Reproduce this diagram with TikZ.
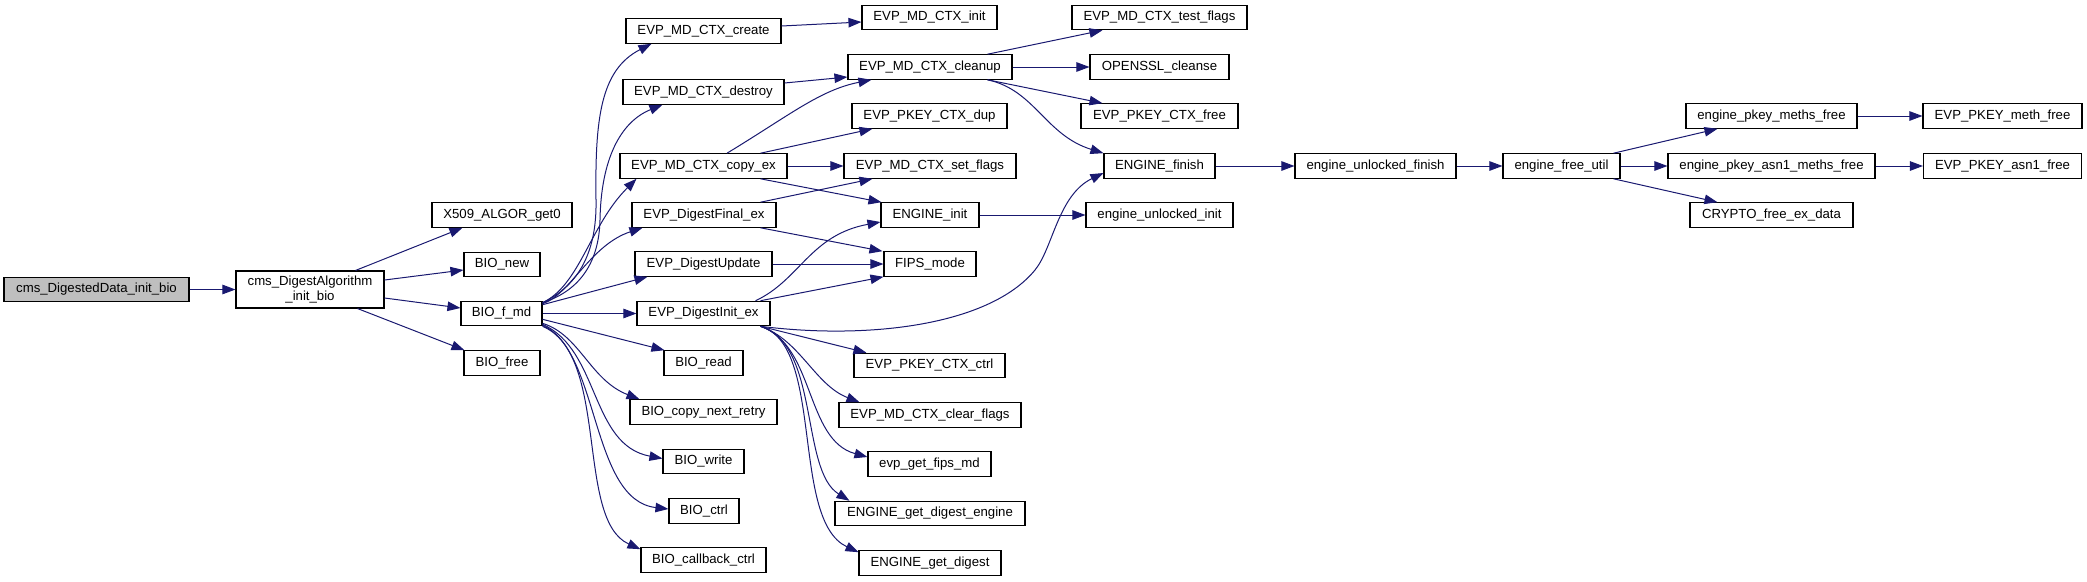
\documentclass[tikz,border=0pt]{standalone}
\usepackage{fontspec}
\setmainfont{Liberation Sans}
\usetikzlibrary{arrows.meta}
\definecolor{edgecol}{HTML}{191970}
\definecolor{rootfill}{HTML}{BFBFBF}
\begin{document}
\begin{tikzpicture}[x=1pt,y=-1pt,
  box/.style={draw=black, line width=1.1pt, fill=white, inner sep=0pt, minimum height=24.5pt,
    font=\fontsize{13.2}{15.5}\selectfont},
  rootbox/.style={box, fill=rootfill},
  edge/.style={draw=edgecol, line width=1pt, -{Triangle[length=13pt,width=9.5pt]}, fill=none}]
\useasboundingbox (0,0) rectangle (2087,581);
% column 1-2
\node[rootbox, minimum width=185pt] (root) at (96.5,289.5) {cms\_DigestedData\_init\_bio};
\node[box, minimum width=148pt, minimum height=37pt, align=center] (alg) at (310,289.5) {cms\_DigestAlgorithm\\\_init\_bio};
% column 3
\node[box, minimum width=140pt] (x509) at (502,215) {X509\_ALGOR\_get0};
\node[box, minimum width=76pt] (bionew) at (502,264.5) {BIO\_new};
\node[box, minimum width=81pt] (biofmd) at (501.5,313.5) {BIO\_f\_md};
\node[box, minimum width=76pt] (biofree) at (502,363) {BIO\_free};
% column 4
\node[box, minimum width=155pt] (create) at (703.5,31) {EVP\_MD\_CTX\_create};
\node[box, minimum width=161pt] (destroy) at (703.5,92) {EVP\_MD\_CTX\_destroy};
\node[box, minimum width=167pt] (copyex) at (703.5,166) {EVP\_MD\_CTX\_copy\_ex};
\node[box, minimum width=144pt] (dfinal) at (704,215) {EVP\_DigestFinal\_ex};
\node[box, minimum width=137pt] (dupdate) at (703.5,264) {EVP\_DigestUpdate};
\node[box, minimum width=133pt] (dinit) at (703.5,313.5) {EVP\_DigestInit\_ex};
\node[box, minimum width=79pt] (bioread) at (703.5,363) {BIO\_read};
\node[box, minimum width=147pt] (copyretry) at (703.5,412) {BIO\_copy\_next\_retry};
\node[box, minimum width=81pt] (biowrite) at (703.5,461.5) {BIO\_write};
\node[box, minimum width=70pt] (bioctrl) at (704,511) {BIO\_ctrl};
\node[box, minimum width=125pt] (cbctrl) at (703.5,560) {BIO\_callback\_ctrl};
% column 5
\node[box, minimum width=135pt] (mdinit) at (929.5,17.5) {EVP\_MD\_CTX\_init};
\node[box, minimum width=164pt] (cleanup) at (930,67) {EVP\_MD\_CTX\_cleanup};
\node[box, minimum width=155pt] (ctxdup) at (929.5,116) {EVP\_PKEY\_CTX\_dup};
\node[box, minimum width=172pt] (setflags) at (930,166) {EVP\_MD\_CTX\_set\_flags};
\node[box, minimum width=98pt] (einit) at (930,215) {ENGINE\_init};
\node[box, minimum width=92pt] (fips) at (930,264) {FIPS\_mode};
\node[box, minimum width=151pt] (ctxctrl) at (929.5,365.5) {EVP\_PKEY\_CTX\_ctrl};
\node[box, minimum width=182pt] (clearflags) at (930,415) {EVP\_MD\_CTX\_clear\_flags};
\node[box, minimum width=123pt] (fipsmd) at (929.5,464) {evp\_get\_fips\_md};
\node[box, minimum width=190pt] (gde) at (930,513.5) {ENGINE\_get\_digest\_engine};
\node[box, minimum width=142pt] (gd) at (930,563) {ENGINE\_get\_digest};
% column 6
\node[box, minimum width=175pt] (testflags) at (1159.5,17.5) {EVP\_MD\_CTX\_test\_flags};
\node[box, minimum width=139pt] (cleanse) at (1159.5,67) {OPENSSL\_cleanse};
\node[box, minimum width=157pt] (ctxfree) at (1159.5,116) {EVP\_PKEY\_CTX\_free};
\node[box, minimum width=111pt] (efinish) at (1159.5,166) {ENGINE\_finish};
\node[box, minimum width=147pt] (euinit) at (1159.5,215) {engine\_unlocked\_init};
% columns 7-10
\node[box, minimum width=161pt] (eufinish) at (1375.5,166) {engine\_unlocked\_finish};
\node[box, minimum width=117pt] (freeutil) at (1561.5,166) {engine\_free\_util};
\node[box, minimum width=171pt] (pmf) at (1771.5,116) {engine\_pkey\_meths\_free};
\node[box, minimum width=207pt] (pamf) at (1771.5,166) {engine\_pkey\_asn1\_meths\_free};
\node[box, minimum width=163pt] (crypto) at (1771.5,215) {CRYPTO\_free\_ex\_data};
\node[box, minimum width=159pt] (methfree) at (2002.5,116) {EVP\_PKEY\_meth\_free};
\node[box, minimum width=158pt] (asn1free) at (2002.5,166) {EVP\_PKEY\_asn1\_free};

% edges
\draw[edge] (root.east) -- (alg.west);
\draw[edge] ([xshift=-29pt]alg.north east) -- ([xshift=31pt]x509.south west);
\draw[edge] ([yshift=9.5pt]alg.east) -- ([yshift=-5.5pt]bionew.west);
\draw[edge] ([yshift=-8.5pt]alg.east) -- ([yshift=5.5pt]biofmd.west);
\draw[edge] ([xshift=-27pt]alg.south east) -- ([xshift=1pt]biofree.north west);

\draw[edge] ([yshift=-2pt]biofmd.north east) .. controls (580,285) and (597,250) .. (596,200) .. controls (595,120) and (600,70) .. ([xshift=26pt]create.south west);
\draw[edge] ([yshift=-2pt]biofmd.north east) .. controls (582,290) and (599,260) .. (600,220) .. controls (601,160) and (620,122) .. ([xshift=40pt]destroy.south west);
\draw[edge] ([yshift=-2pt]biofmd.north east) .. controls (580,285) and (590,225) .. ([xshift=17pt]copyex.south west);
\draw[edge] ([yshift=-3pt]biofmd.north east) .. controls (570,295) and (590,245) .. ([xshift=11pt]dfinal.south west);
\draw[edge] ([yshift=-4pt]biofmd.north east) -- ([xshift=13pt]dupdate.south west);
\draw[edge] (biofmd.east) -- (dinit.west);
\draw[edge] ([yshift=7pt]biofmd.south east) -- ([xshift=1pt]bioread.north west);
\draw[edge] ([yshift=3pt]biofmd.south east) .. controls (580,335) and (590,380) .. ([xshift=10pt]copyretry.north west);
\draw[edge] ([yshift=2pt]biofmd.south east) .. controls (600,350) and (590,445) .. ([yshift=3pt]biowrite.west);
\draw[edge] ([yshift=1pt]biofmd.south east) .. controls (600,350) and (590,500) .. ([yshift=2pt]bioctrl.west);
\draw[edge] (biofmd.south east) .. controls (610,355) and (575,520) .. ([yshift=-2pt]cbctrl.north west);

\draw[edge] ([xshift=-15pt]dinit.north east) .. controls (800,280) and (810,235) .. ([yshift=-7pt]einit.west);
\draw[edge] ([xshift=-10pt]dinit.north east) -- (fips.south west);
\draw[edge] ([xshift=-10pt]dinit.south east) .. controls (870,340) and (990,325) .. (1035,270) .. controls (1053,248) and (1058,195) .. ([yshift=-7pt]efinish.west);
\draw[edge] ([xshift=-10pt]dinit.south east) -- ([xshift=13pt]ctxctrl.north west);
\draw[edge] ([xshift=-10pt]dinit.south east) .. controls (800,340) and (815,385) .. ([xshift=21pt]clearflags.north west);
\draw[edge] ([xshift=-10pt]dinit.south east) .. controls (815,345) and (805,440) .. ([yshift=7pt]fipsmd.west);
\draw[edge] ([xshift=-10pt]dinit.south east) .. controls (820,345) and (800,470) .. ([xshift=15pt]gde.north west);
\draw[edge] ([xshift=-10pt]dinit.south east) .. controls (825,345) and (790,520) .. ([yshift=-2pt]gd.north west);

\draw[edge] ([xshift=23.5pt]copyex.north) .. controls (790,115) and (820,90) .. ([xshift=24pt]cleanup.south west);
\draw[edge] ([xshift=-27pt]copyex.north east) -- ([xshift=21pt]ctxdup.south west);
\draw[edge] (copyex.east) -- (setflags.west);
\draw[edge] ([xshift=-27pt]copyex.south east) -- ([xshift=1pt]einit.north west);

\draw[edge] ([yshift=5pt]create.east) -- ([yshift=-4.5pt]mdinit.west);
\draw[edge] ([yshift=9pt]destroy.east) -- ([yshift=-10pt]cleanup.west);
\draw[edge] ([xshift=-16pt]dfinal.north east) -- ([xshift=29pt]setflags.south west);
\draw[edge] ([xshift=-16pt]dfinal.south east) -- ([xshift=-1pt]fips.north west);
\draw[edge] (dupdate.east) -- (fips.west);

\draw[edge] ([xshift=-25pt]cleanup.north east) -- ([xshift=31pt]testflags.south west);
\draw[edge] (cleanup.east) -- (cleanse.west);
\draw[edge] ([xshift=-25pt]cleanup.south east) -- ([xshift=22pt]ctxfree.north west);
\draw[edge] ([xshift=-25pt]cleanup.south east) .. controls (1035,90) and (1045,135) .. (efinish.north west);

\draw[edge] (einit.east) -- (euinit.west);
\draw[edge] (efinish.east) -- (eufinish.west);
\draw[edge] (eufinish.east) -- (freeutil.west);
\draw[edge] ([xshift=-7pt]freeutil.north east) -- ([xshift=32pt]pmf.south west);
\draw[edge] (freeutil.east) -- (pamf.west);
\draw[edge] ([xshift=-7pt]freeutil.south east) -- ([xshift=28pt]crypto.north west);
\draw[edge] (pmf.east) -- (methfree.west);
\draw[edge] (pamf.east) -- (asn1free.west);
\end{tikzpicture}
\end{document}
